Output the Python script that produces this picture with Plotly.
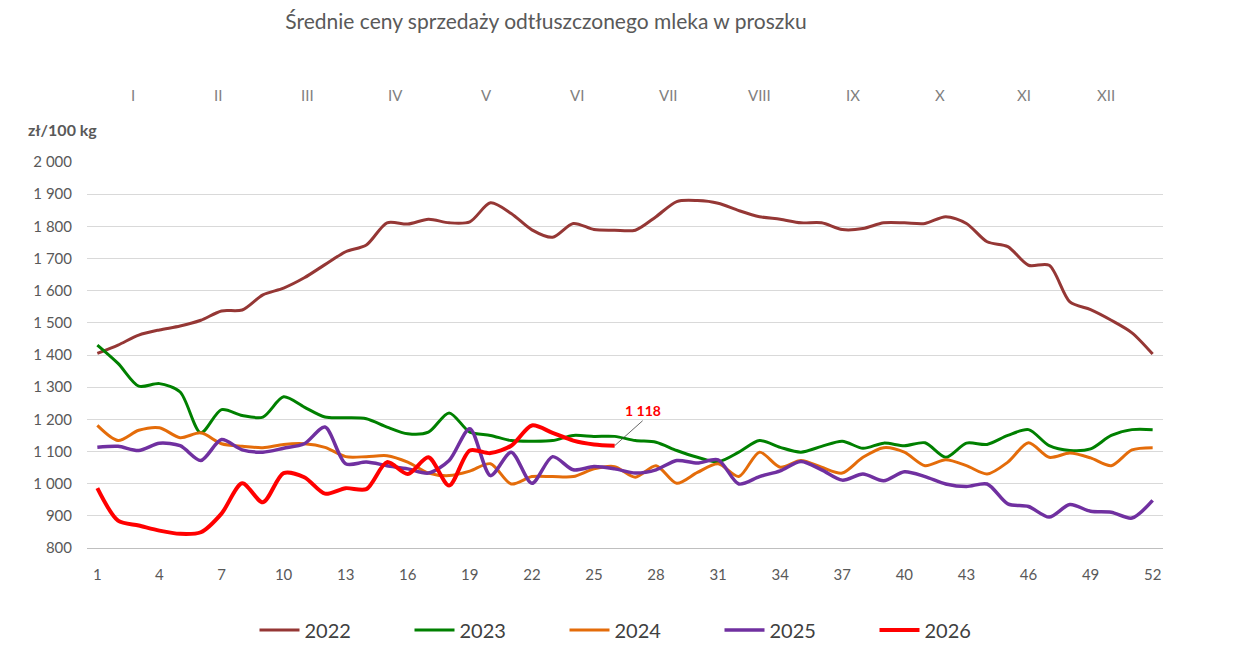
import plotly.graph_objects as go

weeks = list(range(1, 53))

y2022 = [1405, 1431, 1462, 1478, 1490, 1508, 1537, 1540, 1587, 1608, 1640, 1681, 1721, 1742,
         1811, 1807, 1822, 1811, 1814, 1873, 1840, 1789, 1766, 1809, 1790, 1788, 1788, 1830,
         1877, 1880, 1872, 1849, 1830, 1822, 1811, 1811, 1790, 1793, 1811, 1811, 1809, 1830,
         1809, 1752, 1737, 1679, 1679, 1565, 1541, 1508, 1469, 1403]
y2023 = [1431, 1374, 1303, 1311, 1285, 1158, 1230, 1212, 1207, 1270, 1238, 1207, 1205, 1202,
         1176, 1155, 1160, 1220, 1160, 1150, 1134, 1132, 1134, 1150, 1147, 1147, 1134, 1129,
         1103, 1082, 1068, 1098, 1134, 1113, 1098, 1116, 1132, 1110, 1126, 1118, 1127, 1082,
         1126, 1122, 1150, 1168, 1118, 1103, 1108, 1150, 1168, 1168]
y2024 = [1181, 1134, 1166, 1174, 1143, 1158, 1124, 1116, 1112, 1122, 1124, 1113, 1084, 1084,
         1087, 1067, 1033, 1025, 1039, 1062, 999, 1022, 1022, 1022, 1046, 1053, 1020, 1056,
         1001, 1035, 1062, 1022, 1098, 1051, 1072, 1051, 1033, 1082, 1112, 1098, 1056, 1074,
         1056, 1030, 1067, 1127, 1082, 1095, 1080, 1056, 1105, 1112]
y2025 = [1113, 1116, 1103, 1126, 1118, 1072, 1137, 1105, 1098, 1110, 1124, 1176, 1062, 1067,
         1056, 1046, 1033, 1072, 1171, 1025, 1098, 1001, 1084, 1043, 1053, 1046, 1033, 1043,
         1072, 1064, 1074, 999, 1022, 1040, 1069, 1043, 1011, 1030, 1009, 1037, 1022, 999,
         991, 999, 937, 929, 896, 935, 914, 911, 893, 948]
y2026 = [986, 885, 870, 854, 844, 849, 907, 1001, 942, 1033, 1020, 969, 986, 983,
         1067, 1030, 1082, 994, 1103, 1095, 1118, 1181, 1158, 1134, 1122, 1118]

series_names = ["2022", "2023", "2024", "2025", "2026"]
series_values = [y2022, y2023, y2024, y2025, y2026]
colors = ["#953735", "#008000", "#E46C0A", "#7030A0", "#FF0000"]
widths = [3, 3, 3, 3.5, 4]

month_labels = ["I", "II", "III", "IV", "V", "VI", "VII", "VIII", "IX", "X", "XI", "XII"]
month_pos = [2.74, 6.85, 11.15, 15.4, 19.8, 24.2, 28.6, 33.0, 37.5, 41.7, 45.8, 49.75]

x_ticks = list(range(1, 53, 3))
y_ticks = list(range(800, 2001, 100))

FONT = "Lato"
GRAY = "#595959"

# page body has an 8px margin; figure coordinates are screen minus 8
OFF = 8
W, H = 1243 - OFF, 646 - OFF
plot_left, plot_right = 87 - OFF, 1163 - OFF
plot_top, plot_bottom = 162 - OFF, 548 - OFF


def py(screen_y):
    pix = screen_y - OFF
    return (plot_bottom - pix) / (plot_bottom - plot_top)


fig = go.Figure()
for name, vals, c, w in zip(series_names, series_values, colors, widths):
    fig.add_trace(go.Scatter(
        x=weeks[:len(vals)], y=vals, name=name, mode="lines",
        line=dict(color=c, width=w, shape="spline", smoothing=0.8),
    ))

annotations = []
for lab, pos in zip(month_labels, month_pos):
    annotations.append(dict(x=pos, y=py(95), xref="x", yref="paper", text=lab,
                            showarrow=False, font=dict(family=FONT, size=15, color="#7f7f7f"),
                            yanchor="middle", xanchor="center"))
annotations.append(dict(x=53.95, y=py(95), xref="x", yref="paper", text="<b>miesiąc</b>",
                        showarrow=False, font=dict(family=FONT, size=15, color=GRAY),
                        yanchor="middle", xanchor="center"))
annotations.append(dict(x=54.3, y=py(576), xref="x", yref="paper", text="<b>tydzień</b>",
                        showarrow=False, font=dict(family=FONT, size=15, color=GRAY),
                        yanchor="middle", xanchor="center"))
annotations.append(dict(x=0.5, y=py(130), xref="x", yref="paper", text="<b>zł/100 kg</b>",
                        showarrow=False, font=dict(family=FONT, size=16, color=GRAY),
                        yanchor="middle", xanchor="right", xshift=12))
last_w = len(y2026)
last_v = y2026[-1]
annotations.append(dict(x=last_w, y=last_v, xref="x", yref="y",
                        text="<b>" + f"{last_v:,}".replace(",", " ") + "</b>",
                        showarrow=True, arrowhead=0, arrowwidth=0.8, arrowcolor="#404040",
                        ax=28, ay=-25, font=dict(family=FONT, size=14, color="#FF0000"),
                        xanchor="center", yanchor="bottom"))

fig.update_layout(
    width=W, height=H,
    margin=dict(l=plot_left, r=W - plot_right, t=plot_top, b=H - plot_bottom, autoexpand=False),
    paper_bgcolor="white", plot_bgcolor="white",
    separators=", ",
    title=dict(text="Średnie ceny sprzedaży odtłuszczonego mleka w proszku",
               x=(546 - OFF) / W, xanchor="center", y=1 - (22 - OFF) / H, yanchor="middle",
               font=dict(family=FONT, size=21, color=GRAY)),
    xaxis=dict(range=[0.5, 52.5], tickvals=x_ticks, ticktext=[str(t) for t in x_ticks],
               showgrid=False, zeroline=False, showline=True, linecolor="#bfbfbf", linewidth=1,
               ticks="", ticklabelstandoff=13, automargin=False,
               tickfont=dict(family=FONT, size=15, color=GRAY)),
    yaxis=dict(range=[800, 2000], tickvals=y_ticks, tickformat=",d",
               showgrid=True, gridcolor="#d9d9d9", gridwidth=1, zeroline=False,
               showline=False, ticks="", ticklabelstandoff=14, automargin=False,
               tickfont=dict(family=FONT, size=15, color=GRAY)),
    legend=dict(orientation="h", x=(642 - OFF) / W, xanchor="center", xref="container",
                y=16 / H, yanchor="middle", yref="container",
                font=dict(family=FONT, size=20, color="#404040"),
                entrywidth=100, entrywidthmode="pixels", itemwidth=40),
    annotations=annotations,
    showlegend=True,
)

fig.write_html("out.html")
